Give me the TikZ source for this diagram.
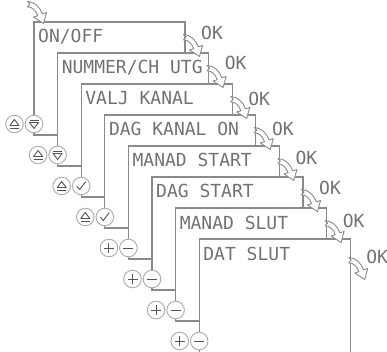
\documentclass[tikz,border=0pt]{standalone}
\usepackage{fontspec}
\newfontfamily\lcdfont{DejaVu Sans Mono}
\definecolor{linegray}{HTML}{8A8A8A}
\definecolor{textgray}{HTML}{727272}
\definecolor{ringgray}{HTML}{ABABAB}
\definecolor{symgray}{HTML}{555555}
\tikzset{
  screen/.style={draw=none, anchor=north west, minimum width=151pt,
    minimum height=31pt, inner sep=0pt, outer sep=0pt},
  frameline/.style={draw=linegray, line width=1.2pt},
  lcdtext/.style={font=\lcdfont\fontsize{18}{18}\selectfont, text=textgray,
    anchor=base west, inner sep=0pt},
  btn/.style={circle, draw=ringgray, line width=0.9pt, minimum size=17.6pt,
    inner sep=0pt, fill=white},
  sym/.style={draw=symgray, line width=0.9pt, line join=round},
  arrowline/.style={draw=linegray, line width=0.9pt, fill=white, line join=round},
  upsym/.pic={\draw[sym] (-4.5,1.5) -- (4.5,1.5) -- (0,-4.5) -- cycle;
    \draw[sym] (-4.5,4) -- (4.5,4);},
  downsym/.pic={\draw[sym] (-4.5,-1.5) -- (4.5,-1.5) -- (0,4.5) -- cycle;
    \draw[sym] (-4.5,-4) -- (4.5,-4);},
  checksym/.pic={\draw[sym] (-4.5,0) -- (-1.5,3.5) -- (4.5,-4.5);},
  plussym/.pic={\draw[sym] (-5,0) -- (5,0) (0,-5) -- (0,5);},
  minussym/.pic={\draw[sym] (-5,0) -- (5,0);},
  okarrow/.pic={\draw[arrowline] (-1.5,12.5) .. controls (5,12.5) and (11,18) .. (13.3,24.8)
    -- (17.5,23.5) -- (14.5,34.5) -- (4.5,28) -- (8.7,26.7)
    .. controls (7,21.5) and (3,17.8) .. (-1.5,17.8) -- (1,15.1) -- cycle;}
}
\begin{document}
\begin{tikzpicture}[x=1pt,y=-1pt]
\useasboundingbox (0,0) rectangle (387,352);
\clip (0,0) rectangle (387,352);

% screens (geometry)
\node[screen] (s1) at (34,22) {};
\node[screen] (s2) at (57.6,53) {};
\node[screen] (s3) at (81.2,84) {};
\node[screen] (s4) at (104.8,115) {};
\node[screen] (s5) at (128.4,146) {};
\node[screen] (s6) at (152,177) {};
\node[screen] (s7) at (175.6,208) {};
\node[screen, minimum height=120pt] (s8) at (199.2,239) {};

% buttons
\node[btn] (b1a) at (14.5,124) {}; \node[btn] (b1b) at (34,124) {};
\node[btn] (b2a) at (38.1,155) {}; \node[btn] (b2b) at (57.6,155) {};
\node[btn] (b3a) at (61.7,186) {}; \node[btn] (b3b) at (81.2,186) {};
\node[btn] (b4a) at (85.3,217) {}; \node[btn] (b4b) at (104.8,217) {};
\node[btn] (b5a) at (108.9,248) {}; \node[btn] (b5b) at (128.4,248) {};
\node[btn] (b6a) at (132.5,279) {}; \node[btn] (b6b) at (152,279) {};
\node[btn] (b7a) at (156.1,310) {}; \node[btn] (b7b) at (175.6,310) {};
\node[btn] (b8a) at (179.7,341) {}; \node[btn] (b8b) at (199.2,341) {};
\pic at (b1a) {upsym}; \pic at (b1b) {downsym};
\pic at (b2a) {upsym}; \pic at (b2b) {downsym};
\pic at (b3a) {upsym}; \pic at (b3b) {checksym};
\pic at (b4a) {upsym}; \pic at (b4b) {checksym};
\pic at (b5a) {plussym}; \pic at (b5b) {minussym};
\pic at (b6a) {plussym}; \pic at (b6b) {minussym};
\pic at (b7a) {plussym}; \pic at (b7b) {minussym};
\pic at (b8a) {plussym}; \pic at (b8b) {minussym};

% screen frames
\draw[frameline] (b1b.north) -- (s1.north west) -- (s1.north east) -- (s1.south east);
\draw[frameline] (b2b.north) -- (s2.north west) -- (s2.north east) -- (s2.south east);
\draw[frameline] (b3b.north) -- (s3.north west) -- (s3.north east) -- (s3.south east);
\draw[frameline] (b4b.north) -- (s4.north west) -- (s4.north east) -- (s4.south east);
\draw[frameline] (b5b.north) -- (s5.north west) -- (s5.north east) -- (s5.south east);
\draw[frameline] (b6b.north) -- (s6.north west) -- (s6.north east) -- (s6.south east);
\draw[frameline] (b7b.north) -- (s7.north west) -- (s7.north east) -- (s7.south east);
\draw[frameline] (b8b.north) -- (s8.north west) -- (s8.north east) -- (s8.south east);

% connectors between buttons and next screen
\coordinate (j1) at (57.6,135);
\coordinate (j2) at (81.2,166);
\coordinate (j3) at (104.8,197);
\coordinate (j4) at (128.4,228);
\coordinate (j5) at (152,259);
\coordinate (j6) at (175.6,290);
\coordinate (j7) at (199.2,321);
\coordinate (jend) at (199.2,352);
\draw[frameline] (b1b.south) |- (j1);
\draw[frameline] (b2b.south) |- (j2);
\draw[frameline] (b3b.south) |- (j3);
\draw[frameline] (b4b.south) |- (j4);
\draw[frameline] (b5b.south) |- (j5);
\draw[frameline] (b6b.south) |- (j6);
\draw[frameline] (b7b.south) |- (j7);
\draw[frameline] (b8b.south) -- (jend);

% texts
\node[lcdtext] (t1) at (38,43) {ON/OFF};
\node[lcdtext] (t2) at (61.6,74) {NUMMER/CH UTG};
\node[lcdtext] (t3) at (85.2,105) {VALJ KANAL};
\node[lcdtext] (t4) at (108.8,136) {DAG KANAL ON};
\node[lcdtext] (t5) at (132.4,167) {MANAD START};
\node[lcdtext] (t6) at (156,198) {DAG START};
\node[lcdtext] (t7) at (179.6,229) {MANAD SLUT};
\node[lcdtext] (t8) at (203.2,260) {DAT SLUT};

% arrows
\pic at ([shift={(-5,-33)}]s1.north west) {okarrow};
\pic at (s1.north east) {okarrow};
\pic at (s2.north east) {okarrow};
\pic at (s3.north east) {okarrow};
\pic at (s4.north east) {okarrow};
\pic at (s5.north east) {okarrow};
\pic at (s6.north east) {okarrow};
\pic at (s7.north east) {okarrow};
\pic at ([yshift=-6pt]s8.north east) {okarrow};

% OK labels
\node[lcdtext] (ok1) at (201,40) {OK};
\node[lcdtext] (ok2) at (224.6,70) {OK};
\node[lcdtext] (ok3) at (248.2,106) {OK};
\node[lcdtext] (ok4) at (271.8,136) {OK};
\node[lcdtext] (ok5) at (295.4,165) {OK};
\node[lcdtext] (ok6) at (319,195) {OK};
\node[lcdtext] (ok7) at (342.6,227) {OK};
\node[lcdtext] (ok8) at (366.2,263) {OK};
\end{tikzpicture}
\end{document}
